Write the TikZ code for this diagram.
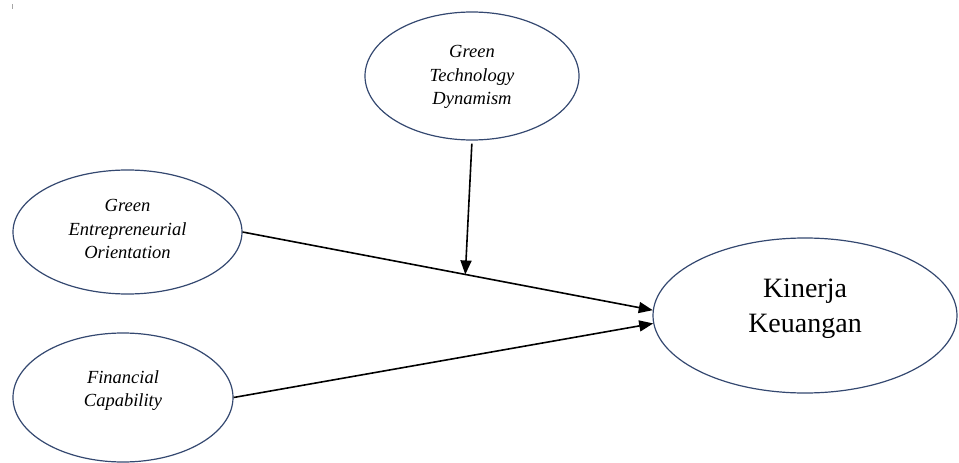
\documentclass[tikz,border=0pt]{standalone}
\usepackage{fontspec}
\setmainfont{Liberation Serif}
\usetikzlibrary{shapes.geometric,arrows.meta,calc}
\definecolor{ellcol}{RGB}{52,72,112}
\tikzset{
  ell/.style={draw=ellcol, line width=1.2pt, ellipse, inner sep=0pt},
  lbl/.style={align=center, font=\fontsize{18.5}{23.5}\selectfont\itshape, inner sep=0pt},
  biglbl/.style={align=center, font=\fontsize{28}{35}\selectfont, inner sep=0pt},
  conn/.style={line width=1.6pt, -{Triangle[length=14pt,width=11pt]}}
}
\begin{document}
\begin{tikzpicture}[x=1pt,y=-1pt]
\useasboundingbox (0,0) rectangle (959,463);
\fill[gray!70] (11.5,4) rectangle (13,8.5);
\node[ell, minimum width=214pt, minimum height=128pt] (gtd) at (472,76) {};
\node[ell, minimum width=229pt, minimum height=124pt] (geo) at (127.5,232) {};
\node[ell, minimum width=220pt, minimum height=129pt] (fc) at (123,397.5) {};
\node[ell, minimum width=304pt, minimum height=155pt] (kk) at (805,315.5) {};
\node[lbl] (gtdt) at ([yshift=-1pt]gtd.center) {Green\\Technology\\Dynamism};
\node[lbl] (geot) at ([yshift=3pt]geo.center) {Green\\Entrepreneurial\\Orientation};
\node[lbl] (fct) at ([yshift=7pt]fc.center) {Financial\\Capability};
\node[biglbl] (kkt) at ([yshift=7pt]kk.center) {Kinerja\\Keuangan};
\coordinate (m) at ($(geo.east)!0.543!(kk.178)$);
\draw[conn] (geo.east) -- (kk.178);
\draw[conn] (fc.east) -- (kk.183);
\draw[conn, shorten <=3pt] (gtd.south) -- (m);
\end{tikzpicture}
\end{document}
